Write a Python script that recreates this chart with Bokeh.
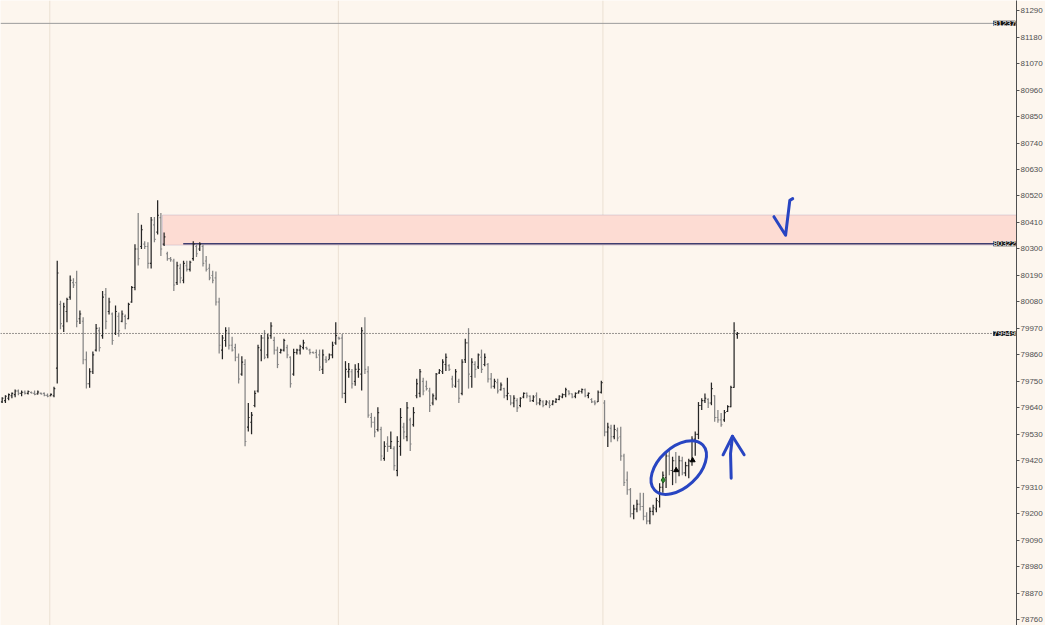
import numpy as np
from bokeh.plotting import figure
from bokeh.models import (ColumnDataSource, Range1d, FixedTicker, Span,
                          BoxAnnotation, Label)
from bokeh.embed import file_html
from bokeh.resources import INLINE

# ---------------- data (OHLC bars) ----------------
HIGHS = [79684, 79692, 79700, 79704, 79716, 79716, 79712, 79712, 79712, 79708,
         79712, 79712, 79704, 79704, 79700, 79700, 79728, 80251, 80085, 80077,
         80097, 80190, 80178, 80210, 80044, 80016, 79874, 79805, 79874, 79988,
         79975, 80125, 80138, 80097, 80036, 80065, 80036, 80044, 80028, 80077,
         80146, 80320, 80449, 80401, 80332, 80328, 80433, 80433, 80502, 80449,
         80368, 80288, 80267, 80259, 80247, 80239, 80251, 80251, 80251, 80332,
         80320, 80328, 80320, 80271, 80239, 80210, 80206, 80097, 79943, 79975,
         79975, 79935, 79906, 79866, 79854, 79842, 79660, 79623, 79712, 79902,
         79943, 79963, 79947, 79996, 79935, 79894, 79886, 79927, 79902, 79854,
         79886, 79886, 79902, 79923, 79894, 79886, 79874, 79882, 79882, 79882,
         79854, 79866, 79915, 79996, 79935, 79947, 79834, 79826, 79801, 79821,
         79826, 79975, 80016, 79813, 79619, 79603, 79643, 79562, 79501, 79522,
         79542, 79481, 79522, 79639, 79578, 79664, 79599, 79643, 79761, 79801,
         79765, 79753, 79724, 79700, 79785, 79801, 79842, 79866, 79821, 79773,
         79801, 79761, 79842, 79927, 79971, 79846, 79834, 79866, 79882, 79866,
         79826, 79785, 79761, 79761, 79745, 79724, 79765, 79692, 79692, 79680,
         79684, 79704, 79704, 79692, 79692, 79704, 79680, 79672, 79672, 79672,
         79672, 79680, 79692, 79700, 79724, 79712, 79700, 79704, 79712, 79720,
         79720, 79704, 79680, 79672, 79712, 79753, 79672, 79578, 79570, 79570,
         79558, 79562, 79449, 79376, 79307, 79238, 79258, 79287, 79287, 79206,
         79226, 79238, 79267, 79327, 79376, 79457, 79469, 79437, 79457, 79441,
         79437, 79416, 79429, 79522, 79542, 79664, 79680, 79700, 79680, 79745,
         79692, 79631, 79619, 79631, 79651, 79732, 79996, 79955]

LOWS = [79660, 79660, 79672, 79680, 79684, 79692, 79688, 79696, 79696, 79700,
        79692, 79696, 79696, 79688, 79684, 79688, 79684, 79741, 79967, 79955,
        79996, 80089, 80138, 79975, 79988, 79821, 79720, 79724, 79781, 79874,
        79874, 79927, 79967, 80028, 79902, 79943, 79935, 79996, 79967, 80008,
        80077, 80129, 80231, 80300, 80300, 80219, 80219, 80328, 80360, 80271,
        80312, 80251, 80247, 80125, 80150, 80158, 80158, 80206, 80206, 80251,
        80267, 80292, 80227, 80206, 80170, 80158, 80065, 79866, 79842, 79894,
        79882, 79874, 79834, 79741, 79773, 79481, 79542, 79530, 79643, 79704,
        79834, 79842, 79846, 79927, 79862, 79805, 79866, 79874, 79846, 79724,
        79773, 79862, 79862, 79882, 79882, 79862, 79866, 79846, 79793, 79781,
        79826, 79842, 79846, 79902, 79923, 79680, 79660, 79765, 79720, 79732,
        79765, 79712, 79781, 79599, 79558, 79518, 79542, 79420, 79420, 79457,
        79469, 79380, 79356, 79441, 79510, 79501, 79461, 79562, 79680, 79684,
        79692, 79712, 79623, 79651, 79672, 79781, 79781, 79793, 79793, 79724,
        79724, 79660, 79692, 79826, 79720, 79724, 79765, 79801, 79785, 79813,
        79745, 79720, 79720, 79700, 79712, 79680, 79672, 79651, 79643, 79623,
        79643, 79680, 79680, 79664, 79664, 79651, 79651, 79643, 79651, 79639,
        79651, 79660, 79672, 79680, 79684, 79692, 79680, 79680, 79700, 79700,
        79684, 79680, 79660, 79651, 79664, 79700, 79522, 79477, 79497, 79510,
        79501, 79420, 79315, 79279, 79185, 79177, 79206, 79214, 79173, 79157,
        79157, 79194, 79206, 79226, 79287, 79307, 79360, 79319, 79327, 79356,
        79360, 79356, 79348, 79400, 79441, 79510, 79631, 79660, 79639, 79651,
        79582, 79578, 79562, 79582, 79623, 79643, 79724, 79927]

OPENS = [79665, 79670, 79680, 79690, 79695, 79710, 79700, 79705, 79700, 79704,
         79700, 79698, 79700, 79700, 79692, 79690, 79690, 79805, 80070, 79980,
         80040, 80100, 80160, 80160, 80010, 80000, 79840, 79740, 79790, 79880,
         79960, 79940, 80110, 80040, 80030, 79950, 80020, 80000, 80020, 80010,
         80080, 80140, 80300, 80310, 80320, 80310, 80240, 80400, 80370, 80430,
         80320, 80280, 80260, 80250, 80160, 80220, 80170, 80230, 80215, 80260,
         80310, 80300, 80310, 80250, 80220, 80190, 80180, 80080, 79880, 79920,
         79950, 79900, 79890, 79850, 79780, 79820, 79560, 79580, 79650, 79710,
         79880, 79930, 79860, 79940, 79920, 79880, 79870, 79880, 79890, 79850,
         79780, 79870, 79880, 79890, 79890, 79880, 79870, 79870, 79860, 79800,
         79840, 79840, 79860, 79910, 79930, 79930, 79700, 79790, 79790, 79750,
         79790, 79780, 79950, 79790, 79600, 79580, 79550, 79550, 79430, 79490,
         79480, 79470, 79380, 79480, 79560, 79520, 79590, 79570, 79690, 79700,
         79750, 79730, 79710, 79660, 79680, 79785, 79790, 79820, 79815, 79760,
         79730, 79750, 79700, 79840, 79910, 79770, 79820, 79810, 79850, 79820,
         79820, 79760, 79730, 79745, 79715, 79720, 79690, 79690, 79660, 79670,
         79650, 79685, 79700, 79688, 79670, 79690, 79660, 79665, 79655, 79660,
         79655, 79665, 79675, 79685, 79695, 79710, 79698, 79688, 79702, 79708,
         79715, 79692, 79675, 79665, 79665, 79705, 79660, 79540, 79555, 79520,
         79545, 79520, 79440, 79340, 79300, 79200, 79220, 79240, 79230, 79190,
         79170, 79210, 79220, 79250, 79310, 79350, 79440, 79380, 79420, 79380,
         79420, 79370, 79400, 79420, 79510, 79530, 79650, 79670, 79675, 79660,
         79690, 79600, 79590, 79590, 79625, 79645, 79725, 79945]

CLOSES = [79680, 79688, 79695, 79700, 79710, 79700, 79705, 79700, 79708, 79702,
          79696, 79706, 79698, 79692, 79688, 79696, 79720, 80200, 79990, 80060,
          80090, 80170, 80150, 80000, 80030, 79840, 79740, 79790, 79860, 79970,
          79890, 80100, 80000, 80080, 79920, 80040, 79960, 80030, 79990, 80070,
          80140, 80300, 80260, 80380, 80310, 80240, 80420, 80340, 80440, 80300,
          80350, 80260, 80255, 80150, 80230, 80180, 80240, 80215, 80245, 80320,
          80280, 80320, 80240, 80215, 80180, 80170, 80080, 79900, 79930, 79960,
          79900, 79880, 79850, 79760, 79830, 79500, 79600, 79610, 79700, 79890,
          79930, 79850, 79930, 79980, 79880, 79820, 79880, 79920, 79860, 79740,
          79870, 79880, 79895, 79910, 79885, 79870, 79868, 79850, 79810, 79860,
          79835, 79860, 79900, 79940, 79928, 79700, 79800, 79800, 79740, 79800,
          79800, 79960, 79800, 79610, 79580, 79540, 79620, 79440, 79480, 79480,
          79500, 79400, 79500, 79600, 79540, 79640, 79490, 79620, 79740, 79790,
          79710, 79720, 79650, 79690, 79780, 79795, 79830, 79850, 79800, 79735,
          79790, 79680, 79830, 79910, 79780, 79830, 79800, 79860, 79800, 79850,
          79760, 79730, 79750, 79710, 79735, 79690, 79700, 79660, 79680, 79640,
          79680, 79700, 79690, 79670, 79685, 79660, 79670, 79650, 79665, 79650,
          79668, 79675, 79688, 79695, 79715, 79700, 79685, 79700, 79710, 79716,
          79690, 79700, 79665, 79660, 79705, 79745, 79540, 79560, 79520, 79550,
          79515, 79440, 79330, 79300, 79200, 79220, 79240, 79230, 79190, 79170,
          79210, 79225, 79255, 79310, 79360, 79440, 79380, 79420, 79380, 79420,
          79370, 79400, 79420, 79510, 79530, 79650, 79670, 79680, 79660, 79720,
          79600, 79590, 79570, 79620, 79645, 79725, 79960, 79949]

Y_TICKS = [78760, 78870, 78980, 79090, 79200, 79310, 79420, 79530, 79640, 79750,
           79860, 79970, 80080, 80190, 80300, 80410, 80520, 80630, 80740, 80850,
           80960, 81070, 81180, 81290]

ZONE_TOP, ZONE_BOTTOM = 80441, 80316      # pink supply zone
ZONE_START = 49.5                         # bar index where the zone starts
LEVEL_LINE = 80322                        # dark line inside zone
LEVEL_LINE_START = 55.9
HIGH_LINE = 81237                         # gray horizontal line
LAST_PRICE = 79949                        # dotted last-price line
SESSION_BREAKS = [14.7, 103.8, 185.5]     # faint vertical separators
FLAGS = [HIGH_LINE, LEVEL_LINE, LAST_PRICE]

# ---------------- figure ----------------
X0, X1 = -0.52, 313.2
Y0, Y1 = 78736, 81332
BG = "#fdf6ee"
BLUE = "#2845c2"
FRAME_W, FRAME_H = 1016, 625

p = figure(frame_width=FRAME_W, frame_height=FRAME_H,
           x_range=Range1d(X0, X1), y_range=Range1d(Y0, Y1),
           output_backend="svg", toolbar_location=None,
           y_axis_location="right", x_axis_location=None,
           background_fill_color=BG, border_fill_color=BG,
           outline_line_color=None, min_border=0)
p.xgrid.grid_line_color = None
p.ygrid.grid_line_color = None

ax = p.yaxis[0]
ax.ticker = FixedTicker(ticks=Y_TICKS)
ax.major_tick_out = 3
ax.major_tick_in = 0
ax.minor_tick_line_color = None
ax.axis_line_color = "#505050"
ax.major_tick_line_color = "#505050"
ax.major_label_text_font = "Liberation Sans"
ax.major_label_text_font_size = "8px"
ax.major_label_text_color = "#505050"
ax.major_label_standoff = 1

for loc in SESSION_BREAKS:
    p.add_layout(Span(location=loc, dimension="height", line_color="#ebe0d3",
                      line_width=1, level="underlay"))

p.add_layout(BoxAnnotation(left=ZONE_START, top=ZONE_TOP, bottom=ZONE_BOTTOM,
                           fill_color="#fddcd3", fill_alpha=1.0,
                           line_color="#9a8cb4", line_width=1, level="underlay"))

p.add_layout(Span(location=HIGH_LINE, dimension="width", line_color="#9c9c9c",
                  line_width=1))
p.add_layout(Span(location=LAST_PRICE, dimension="width", line_color="#333333",
                  line_width=1, line_dash="1 2"))
p.segment(x0=[LEVEL_LINE_START], y0=[LEVEL_LINE], x1=[X1], y1=[LEVEL_LINE],
          line_color="#3e3e70", line_width=1.5)

# ---------------- OHLC bars ----------------
n = len(HIGHS)
x = np.arange(n)
opens = np.array(OPENS)
closes = np.array(CLOSES)
colors = np.where(closes >= opens, "#262626", "#858585")
src = ColumnDataSource(dict(x=x, xl=x - 0.4, xr=x + 0.4, high=HIGHS, low=LOWS,
                            open=OPENS, close=CLOSES, color=colors))
p.segment(x0="x", y0="low", x1="x", y1="high", line_color="color",
          line_width=1.25, source=src)
p.segment(x0="xl", y0="open", x1="x", y1="open", line_color="color",
          line_width=1.1, source=src)
p.segment(x0="x", y0="close", x1="xr", y1="close", line_color="color",
          line_width=1.1, source=src)

# trade markers
p.scatter(x=[204.1], y=[79340], marker="diamond", size=6,
          fill_color="#2e8b2e", line_color="#1f5f1f")
p.scatter(x=[208.1, 213.2], y=[79381, 79422], marker="triangle", size=5,
          fill_color="black", line_color="black")

# ---------------- hand-drawn annotations ----------------
p.line(x=[238.3, 241.9, 243.2, 244.1], y=[80434, 80357, 80502, 80509],
       line_color=BLUE, line_width=3, line_cap="round", line_join="round")
p.ellipse(x=[208.9], y=[79392], width=66, height=40, angle=0.75,
          width_units="screen", height_units="screen",
          fill_color=None, line_color=BLUE, line_width=3)
p.line(x=[225.1, 224.9, 225.5], y=[79348, 79450, 79522],
       line_color=BLUE, line_width=3, line_cap="round", line_join="round")
p.line(x=[222.6, 225.5, 229.1], y=[79445, 79522, 79445],
       line_color=BLUE, line_width=3, line_cap="round", line_join="round")

# ---------------- price flags at the axis edge ----------------
for val in FLAGS:
    p.add_layout(Label(x=X1, y=val, x_offset=-1, text=str(val),
                       text_font="Liberation Sans", text_font_size="8px",
                       text_color="white", text_baseline="middle",
                       text_align="right", background_fill_color="#111111",
                       background_fill_alpha=1.0))

open("out.html", "w").write(file_html(p, INLINE))
